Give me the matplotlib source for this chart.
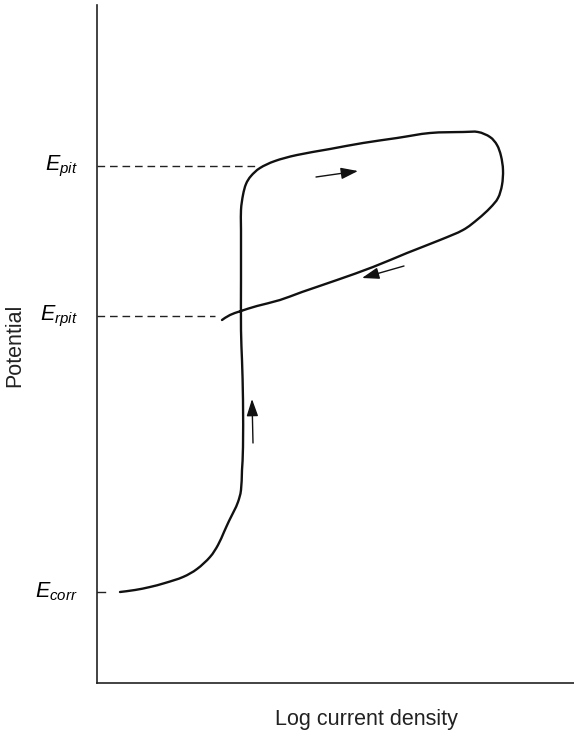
import matplotlib

matplotlib.use("Agg")
import matplotlib.pyplot as plt
import numpy as np
from matplotlib.patches import PathPatch
from matplotlib.path import Path

plt.rcParams["font.family"] = ["Liberation Sans", "DejaVu Sans"]
plt.rcParams["mathtext.fontset"] = "custom"
plt.rcParams["mathtext.rm"] = "Liberation Sans"
plt.rcParams["mathtext.it"] = "Liberation Sans:italic"

# polarisation loop, arbitrary units (x: log i, y: potential)
loop_x = [23, 38, 53, 68, 86, 100, 113, 121, 127, 132, 137, 141, 144, 145,
          146, 146, 145, 144, 144, 144, 144, 146, 149, 154, 163, 178, 200,
          233, 266, 300, 333, 366, 381, 393, 400, 404, 406, 405, 401, 393,
          381, 366, 343, 310, 276, 240, 205, 183, 160, 144, 133, 125]
loop_y = [91, 93, 96, 100, 106, 114, 126, 138, 151, 162, 172, 181, 193, 213,
          236, 283, 323, 353, 403, 453, 473, 488, 499, 507, 515, 522, 528,
          534, 540, 545, 550, 551, 551, 546, 538, 527, 513, 498, 485, 475,
          464, 453, 443, 430, 416, 403, 391, 383, 377, 372, 368, 363]

levels = {"E_{pit}": 517, "E_{rpit}": 367, "E_{corr}": 91}
dash_end = {"E_{pit}": 161, "E_{rpit}": 118, "E_{corr}": 8}

# direction arrows: (tail, head)
arrows = [((219, 506), (261, 512)),
          ((307, 417), (265, 405)),
          ((156, 240), (155, 284))]


def smooth_path(xs, ys):
    # Catmull-Rom through the points, written as cubic Bezier segments
    pts = np.column_stack([xs, ys]).astype(float)
    padded = np.vstack([pts[0], pts, pts[-1]])
    verts = [pts[0]]
    codes = [Path.MOVETO]
    for i in range(1, len(padded) - 2):
        p0, p1, p2, p3 = padded[i - 1], padded[i], padded[i + 1], padded[i + 2]
        verts += [p1 + (p2 - p0) / 6, p2 - (p3 - p1) / 6, p2]
        codes += [Path.CURVE4] * 3
    return Path(verts, codes)


fig = plt.figure(figsize=(5.74, 7.36), dpi=100)
ax = fig.add_axes([97 / 574, 53 / 736, 477 / 574, 678 / 736])
ax.set_xlim(0, 477)
ax.set_ylim(0, 678)

for side in ("top", "right"):
    ax.spines[side].set_visible(False)
for side in ("left", "bottom"):
    ax.spines[side].set_linewidth(1.2)
    ax.spines[side].set_color("#222222")
ax.set_xticks([])
ax.set_yticks([])

ax.add_patch(PathPatch(smooth_path(loop_x, loop_y), facecolor="none",
                       edgecolor="#111111", lw=1.7, capstyle="round",
                       joinstyle="round"))

for name, y in levels.items():
    if name == "E_{corr}":
        ax.plot([0, dash_end[name]], [y, y], color="#222222", lw=1.0)
    else:
        ax.plot([0, dash_end[name]], [y, y], color="#222222", lw=1.0,
                dashes=(5.5, 3.5))
    ax.text(-0.04, y, f"${name}$", transform=ax.get_yaxis_transform(),
            ha="right", va="center", fontsize=15.5)

for tail, head in arrows:
    ax.annotate("", xy=head, xytext=tail,
                arrowprops=dict(arrowstyle="-|>,head_length=0.8,head_width=0.27",
                                lw=1.0, color="#111111", mutation_scale=13,
                                shrinkA=0, shrinkB=0))

fig.text(366 / 574, 1 - 720 / 736, "Log current density", ha="center",
         va="center", fontsize=15.5, color="#222222")
fig.text(15 / 574, 1 - 345 / 736, "Potential", ha="center", va="center",
         rotation=90, fontsize=15.5, color="#222222")

fig.savefig("out.png", dpi=100)
